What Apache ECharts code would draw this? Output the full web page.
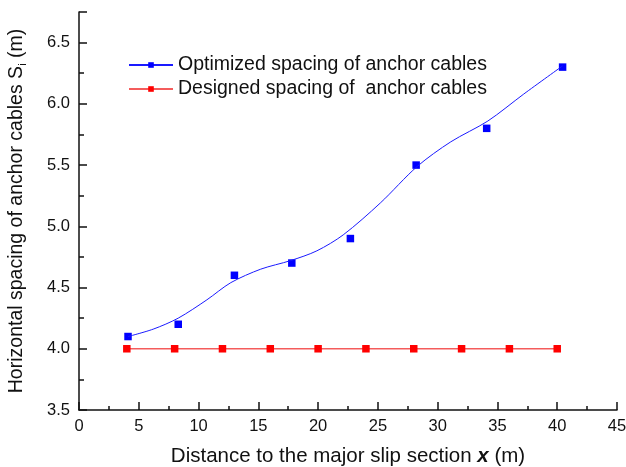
<!DOCTYPE html>
<html>
<head>
<meta charset="utf-8">
<script src="https://cdn.jsdelivr.net/npm/echarts@6/dist/echarts.min.js"></script>
<style>
  html, body { margin: 0; padding: 0; background: #fff; }
  #main { width: 626px; height: 467px; }
</style>
</head>
<body>
<div id="main"></div>
<script>
// measured points (x in m, spacing in m)
const optX = [4.1, 8.3, 13.0, 17.8, 22.7, 28.2, 34.1, 40.45];
const optY = [4.1, 4.2, 4.6, 4.7, 4.9, 5.5, 5.8, 6.3];
// fitted curve
const fitX = [4.1, 6.2, 8.3, 10.7, 12.7, 15.2, 17.7, 19.9, 22.1, 25.2, 28.3, 31.1, 34.2, 37.2, 40.45];
const fitY = [4.1, 4.16, 4.25, 4.4, 4.54, 4.65, 4.72, 4.8, 4.93, 5.19, 5.49, 5.69, 5.86, 6.08, 6.31];
// designed spacing
const desX = [4, 8, 12, 16, 20, 24, 28, 32, 36, 40];
const desY = [4, 4, 4, 4, 4, 4, 4, 4, 4, 4];

const optName = "Optimized spacing of anchor cables";
const desName = "Designed spacing of  anchor cables";
const zip = (a, b) => a.map((v, i) => [v, b[i]]);

const font = "Liberation Sans, Arial, sans-serif";
let myChart = echarts.init(document.getElementById("main"));
myChart.setOption({
  animation: false,
  textStyle: { fontFamily: font },
  grid: { left: 79, right: 9, top: 12, bottom: 57, outerBoundsMode: "none" },
  legend: {
    left: 123,
    top: 50,
    orient: "vertical",
    itemWidth: 44,
    itemHeight: 7,
    itemGap: 4,
    textStyle: { fontSize: 19.5, color: "#111", fontFamily: font },
    data: [optName, desName],
  },
  xAxis: {
    type: "value",
    min: 0,
    max: 45,
    interval: 5,
    name: "Distance to the major slip section {b|x} (m)",
    nameLocation: "middle",
    nameGap: 36,
    nameTextStyle: {
      fontSize: 20.5,
      color: "#111",
      rich: { b: { fontSize: 20.5, fontWeight: "bold", fontStyle: "italic", color: "#111" } },
    },
    splitLine: { show: false },
    axisLine: { lineStyle: { color: "#111", width: 1.5 } },
    axisTick: { inside: true, length: 8, lineStyle: { color: "#111", width: 1.5 } },
    minorTick: { show: true, splitNumber: 2, length: 4, lineStyle: { color: "#111", width: 1.5 } },
    axisLabel: { fontSize: 16.5, color: "#111", margin: 8 },
  },
  yAxis: {
    type: "value",
    min: 3.5,
    max: 6.75,
    interval: 0.5,
    name: "Horizontal spacing of anchor cables S{sub|i} (m)",
    nameLocation: "middle",
    nameGap: 51,
    nameTextStyle: {
      fontSize: 19.5,
      color: "#111",
      rich: { sub: { fontSize: 11, color: "#111", verticalAlign: "bottom", padding: [12, 0, 0, 0] } },
    },
    splitLine: { show: false },
    axisLine: { show: true, lineStyle: { color: "#111", width: 1.5 } },
    axisTick: { inside: true, length: 8, lineStyle: { color: "#111", width: 1.5 } },
    minorTick: { show: true, splitNumber: 2, length: 5, lineStyle: { color: "#111", width: 1.5 } },
    axisLabel: {
      fontSize: 16.5,
      color: "#111",
      margin: 9,
      showMaxLabel: false,
      formatter: (v) => v.toFixed(1),
    },
  },
  series: [
    {
      name: optName,
      type: "line",
      smooth: 0.3,
      symbol: "rect",
      symbolSize: 7,
      showSymbol: false,
      data: zip(fitX, fitY),
      itemStyle: { color: "#0000ff" },
      lineStyle: { color: "#1a1aff", width: 1 },
    },
    {
      name: optName,
      type: "scatter",
      symbol: "rect",
      symbolSize: 7.5,
      data: zip(optX, optY),
      itemStyle: { color: "#0000ff", opacity: 1 },
    },
    {
      name: desName,
      type: "line",
      symbol: "rect",
      symbolSize: 7.5,
      data: zip(desX, desY),
      itemStyle: { color: "#ff0000" },
      lineStyle: { color: "#f45c5c", width: 1.5 },
    },
  ],
});
</script>
</body>
</html>
